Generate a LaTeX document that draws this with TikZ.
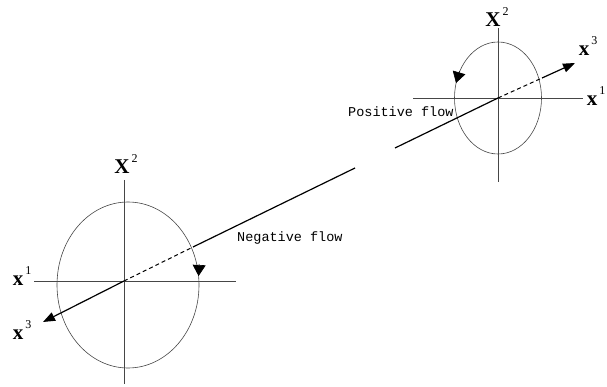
\documentclass[tikz,border=0pt]{standalone}
\usepackage{fontspec}
\setmainfont{Liberation Serif}
\setmonofont{Liberation Mono}
\usetikzlibrary{positioning, arrows.meta, calc}
\definecolor{axisgray}{RGB}{70,70,70}
\newcommand{\supr}[1]{\raisebox{0.55em}{\mdseries\fontsize{12}{12}\selectfont\,#1}}

\begin{document}
\begin{tikzpicture}[
    x=1pt, y=-1pt,
    axis/.style={line width=0.7pt, color=axisgray},
    orbit/.style={line width=0.6pt, color=axisgray},
    flowline/.style={line width=1.2pt, color=black},
    hidden/.style={line width=1pt, color=black, dash pattern=on 4pt off 3pt},
    tipend/.style={-{Triangle[length=12pt, width=9pt]}},
    spin/.style={-{Triangle[length=11pt, width=13pt]}, line width=0.6pt},
    axlbl/.style={font=\fontsize{21}{22}\selectfont\bfseries, inner sep=0pt},
    flowlbl/.style={font=\fontsize{13.5}{15}\selectfont\ttfamily, anchor=west, inner sep=0pt}
]
\useasboundingbox (0,0) rectangle (607,387);

% --- left system ---
\coordinate (oL) at (124,281);
\coordinate (hL1) at (34,281);
\coordinate (hL2) at (236,281);
\coordinate (vL1) at (124,180);
\coordinate (vL2) at (124,384);
\draw[axis] (hL1) -- (hL2);
\draw[axis] (vL1) -- (vL2);
\draw[orbit] (128,285) ellipse [x radius=71pt, y radius=83pt];
\coordinate (eL) at (193,247);
\coordinate (tipL) at (43,322);
\coordinate (gapL) at (355,168);
\draw[hidden] (oL) -- (eL);
\draw[flowline] (eL) -- (gapL);
\draw[flowline, tipend] (oL) -- (tipL);
\draw[spin] (199.2,264) -- (198.6,276);

\node[axlbl] (x2L) at (126,164) {X\supr{2}};
\node[axlbl] (x1L) at (22,276) {x\supr{1}};
\node[axlbl] (x3L) at (22,330) {x\supr{3}};

% --- right system ---
\coordinate (oR) at (498,98);
\coordinate (hR1) at (413,98);
\coordinate (hR2) at (583,98);
\coordinate (vR1) at (498,28);
\coordinate (vR2) at (498,182);
\draw[axis] (hR1) -- (hR2);
\draw[axis] (vR1) -- (vR2);
\draw[orbit] (oR) ellipse [x radius=43.5pt, y radius=56pt];
\coordinate (eR) at (542,78);
\coordinate (tipR) at (575,63);
\coordinate (gapR) at (395,148);
\draw[hidden] (oR) -- (eR);
\draw[flowline, tipend] (eR) -- (tipR);
\draw[flowline] (oR) -- (gapR);
\draw[spin] (459.5,71) -- (456,83);

\node[axlbl] (x2R) at (497,17) {X\supr{2}};
\node[axlbl] (x3R) at (588,46) {x\supr{3}};
\node[axlbl] (x1R) at (596,96) {x\supr{1}};

% --- flow labels ---
\node[flowlbl] (neg) at (237,238) {Negative flow};
\node[flowlbl] (pos) at (348,112) {Positive flow};

\end{tikzpicture}
\end{document}
